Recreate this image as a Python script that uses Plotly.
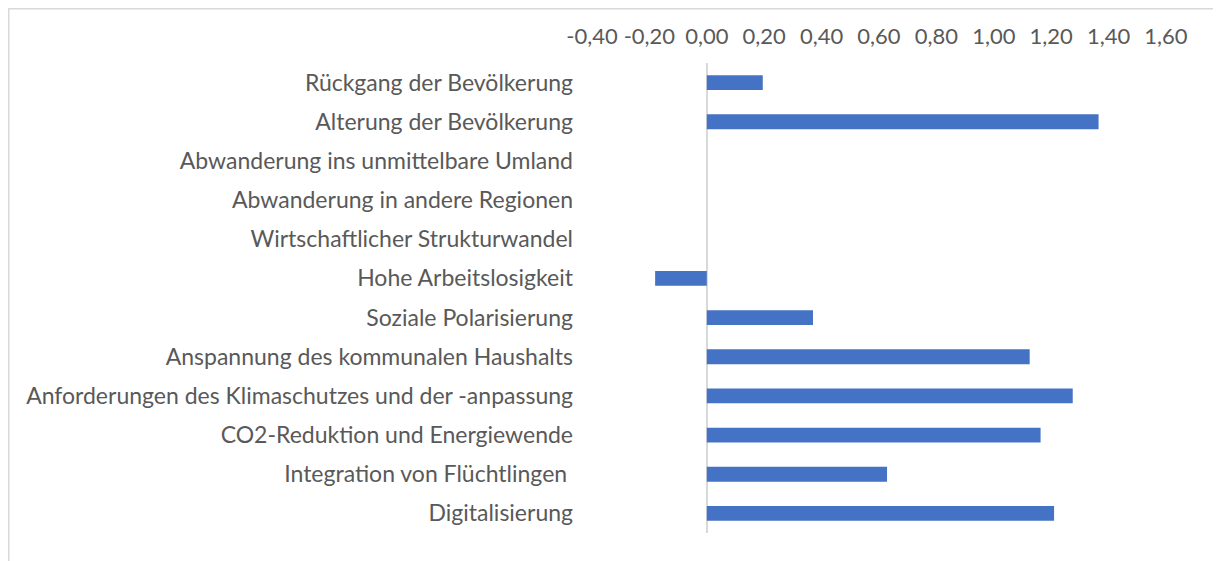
import plotly.graph_objects as go

categories = [
    "Rückgang der Bevölkerung",
    "Alterung der Bevölkerung",
    "Abwanderung ins unmittelbare Umland",
    "Abwanderung in andere Regionen",
    "Wirtschaftlicher Strukturwandel",
    "Hohe Arbeitslosigkeit",
    "Soziale Polarisierung",
    "Anspannung des kommunalen Haushalts",
    "Anforderungen des Klimaschutzes und der -anpassung",
    "CO2-Reduktion und Energiewende",
    "Integration von Flüchtlingen\u00a0",
    "Digitalisierung",
]
values = [0.195, 1.365, 0.0, 0.0, 0.0, -0.18, 0.37, 1.125, 1.275, 1.163, 0.628, 1.21]
tick_values = [-0.4, -0.2, 0.0, 0.2, 0.4, 0.6, 0.8, 1.0, 1.2, 1.4, 1.6]
tick_labels = ["-0,40", "-0,20", "0,00", "0,20", "0,40", "0,60", "0,80", "1,00", "1,20", "1,40", "1,60"]

# page offset of 8px (default body margin) is compensated
OFF = 8
W, H = 1221 - OFF, 561 - OFF
L, R, T, B = 592 - OFF, 1166 - OFF, 63 - OFF, 533 - OFF

fig = go.Figure(go.Bar(
    x=values, y=categories, orientation="h",
    marker=dict(color="#4472C4", line=dict(width=0)),
    width=0.38,
))

def px_x(p):
    return (p - L) / (R - L)

def px_y(p):
    return (B - p) / (B - T)

fig.update_layout(
    width=W, height=H,
    margin=dict(l=L, r=W - R, t=T, b=H - B),
    paper_bgcolor="white", plot_bgcolor="white",
    showlegend=False,
    font=dict(family="Lato", color="#595959", size=22),
    xaxis=dict(
        side="top", range=[-0.4, 1.6], tickvals=tick_values, ticktext=tick_labels,
        showgrid=False, zeroline=True, zerolinecolor="#d9d9d9", zerolinewidth=2,
        showline=False, ticks="", ticklabelstandoff=14,
        tickfont=dict(size=22, color="#595959"),
    ),
    yaxis=dict(
        autorange="reversed", showgrid=False, zeroline=False, showline=False,
        ticks="", ticklabelstandoff=18,
        tickfont=dict(size=23, color="#595959"),
    ),
    shapes=[dict(
        type="rect", xref="paper", yref="paper",
        x0=px_x(0.5), x1=px_x(1240), y0=px_y(580), y1=px_y(0.5),
        line=dict(color="#d9d9d9", width=2), fillcolor="rgba(0,0,0,0)", layer="below",
    )],
)

fig.write_html("out.html")
